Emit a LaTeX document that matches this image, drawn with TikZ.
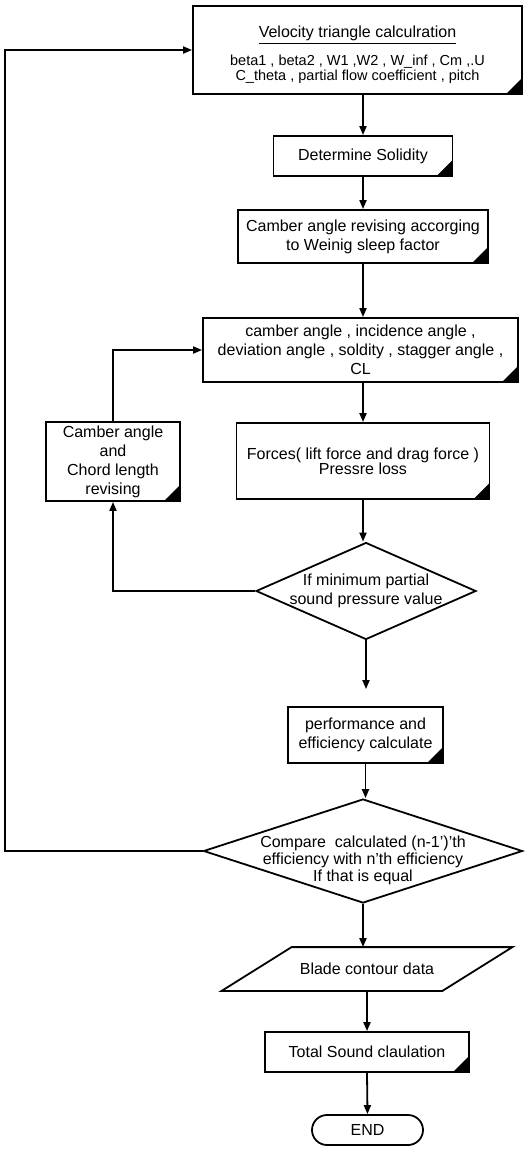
\documentclass[tikz,border=0pt]{standalone}
\usepackage{fontspec}
\setmainfont{Liberation Sans}
\usetikzlibrary{arrows.meta,shapes.geometric}
\begin{document}
\begin{tikzpicture}[x=1pt,y=-1pt,
  >={Triangle[length=9pt,width=7pt]},
  font=\fontsize{16}{19}\selectfont,
  line width=1.8pt,
  proc/.style={draw, rectangle, inner sep=0pt, align=center,
    path picture={\fill (path picture bounding box.south east) -- ++(-16pt,0pt) -- ++(16pt,16pt) -- cycle;}},
  decide/.style={draw, diamond, inner sep=0pt},
  iobox/.style={rectangle, inner sep=0pt},
  term/.style={draw, rectangle, rounded corners=15pt, inner sep=0pt}]
\useasboundingbox (0,0) rectangle (526,1157);
\coordinate (rim) at (5,0);
\node[proc, minimum width=329pt, minimum height=88pt] (vel) at (357.5,50)
  {\rule{0pt}{22pt}\underline{Velocity triangle calculration}\\[9pt]
   \fontsize{14.5}{19}\selectfont beta1 , beta2 , W1 ,W2 , W\_inf , Cm ,.U\\[-4pt]
   \fontsize{14.5}{19}\selectfont C\_theta , partial flow coefficient , pitch};
\node[proc, minimum width=179pt, minimum height=40pt] (det) at (363,156) {Determine Solidity};
\node[proc, minimum width=250pt, minimum height=53pt] (camb) at (363,236.5)
  {Camber angle revising accorging\\to Weinig sleep factor};
\node[proc, minimum width=315pt, minimum height=64pt] (par) at (360.5,350)
  {camber angle , incidence angle ,\\deviation angle , soldity , stagger angle ,\\CL};
\node[proc, minimum width=134pt, minimum height=79pt] (chord) at (113,461.5)
  {Camber angle\\and\\Chord length\\revising};
\node[proc, minimum width=253pt, minimum height=76pt] (forc) at (363,461)
  {Forces( lift force and drag force )\\[-4pt]Pressre loss};
\node[decide, minimum width=220pt, minimum height=97pt,
  label={[align=center]center:If minimum partial\\sound pressure value}] (mins) at (366,591) {};
\node[proc, minimum width=155pt, minimum height=56pt] (perf) at (365.5,735)
  {performance and\\efficiency calculate};
\node[decide, minimum width=319pt, minimum height=104pt,
  label={[align=center, yshift=-9pt]center:Compare\ \ calculated (n-1')'th\\[-2pt]efficiency with n'th efficiency\\[-2pt]If that is equal}] (cmp) at (363,851) {};
\node[iobox, minimum width=219pt, minimum height=42pt] (blade) at (367,969) {Blade contour data};
\draw ([xshift=-35pt]blade.south west) -- ([xshift=35pt]blade.north west)
  -- ([xshift=35pt]blade.north east) -- ([xshift=-35pt]blade.south east) -- cycle;
\node[proc, minimum width=204pt, minimum height=40pt] (total) at (367,1052) {Total Sound claulation};
\node[term, minimum width=111pt, minimum height=30pt] (fin) at (367.5,1130) {END};
\draw[->] (det.north |- vel.south) -- (det.north);
\draw[->] (det.south) -- (camb.north);
\draw[->] (camb.south) -- (camb.south |- par.north);
\draw[->] (camb.south |- par.south) -- (forc.north);
\draw[->] (forc.south) -- (forc.south |- mins.north);
\draw[->] (mins.west) -| (chord.south);
\draw[->] (chord.north) |- (par.west);
\draw[->, shorten >=17pt] (mins.south) -- (mins.south |- perf.north);
\draw[->] (perf.south) -- (perf.south |- cmp.north);
\draw[->] (cmp.west) -- (cmp.west -| rim) |- (vel.west);
\draw[->] (cmp.south) -- (cmp.south |- blade.north);
\draw[->] (blade.south -| total.north) -- (total.north);
\draw[->] (total.south) -- (fin.north);
\end{tikzpicture}
\end{document}
